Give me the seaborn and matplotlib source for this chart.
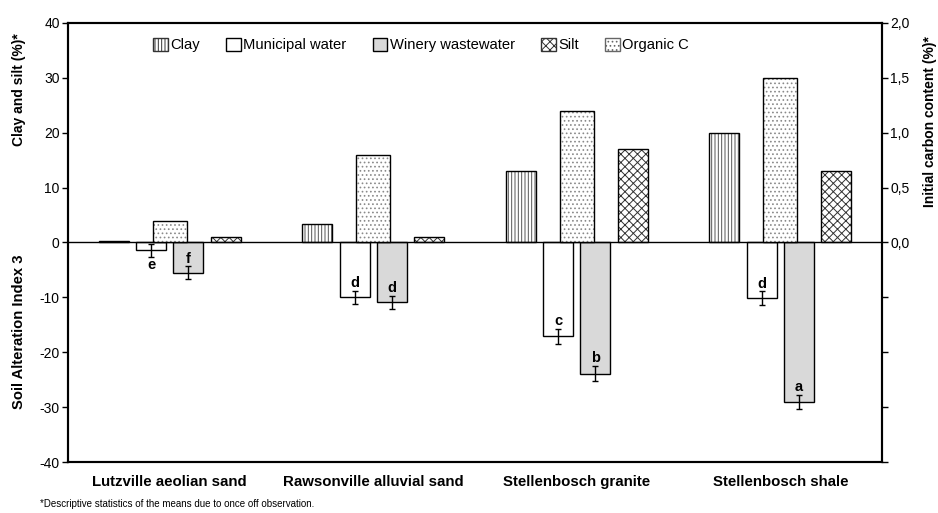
import matplotlib
matplotlib.use("Agg")
import numpy as np
import pandas as pd
import matplotlib.pyplot as plt
import seaborn as sns
from matplotlib.patches import Rectangle, Patch
from matplotlib.ticker import FuncFormatter

# Datos
suelos = ["Lutzville aeolian sand", "Rawsonville alluvial sand",
          "Stellenbosch granite", "Stellenbosch shale"]
series = ["Clay", "Municipal water", "Winery wastewater", "Silt"]
clay = [0.3, 3.3, 13.0, 20.0]
municipal = [-1.4, -10.0, -17.1, -10.1]
winery = [-5.5, -10.9, -23.9, -29.0]
silt = [1.0, 1.0, 17.0, 13.0]
organic_c = [0.2, 0.8, 1.2, 1.5]
municipal_err = [1.2, 1.2, 1.4, 1.2]
winery_err = [1.2, 1.2, 1.4, 1.3]
municipal_letras = ["e", "d", "c", "d"]
winery_letras = ["f", "d", "b", "a"]

sns.set_theme(style="white")
plt.rcParams["font.family"] = ["Liberation Sans", "DejaVu Sans"]
plt.rcParams["hatch.linewidth"] = 0.7
plt.rcParams["axes.unicode_minus"] = False
plt.rcParams["text.color"] = "black"
plt.rcParams["xtick.color"] = "black"
plt.rcParams["ytick.color"] = "black"

df = pd.DataFrame({
    "suelo": suelos * 4,
    "serie": [s for s in series for _ in suelos],
    "valor": clay + municipal + winery + silt,
})
colores = {"Clay": "white", "Municipal water": "white",
           "Winery wastewater": "#d9d9d9", "Silt": "white"}

fig = plt.figure(figsize=(9.38, 5.13), dpi=100)
ax = fig.add_axes([0.0725, 0.0994, 0.8678, 0.8558])

sns.barplot(data=df, x="suelo", y="valor", hue="serie", hue_order=series,
            palette=colores, saturation=1, width=0.736, gap=0.2,
            edgecolor="black", linewidth=1, errorbar=None, legend=False, ax=ax)
cont = list(ax.containers)


def sombrear(eje, parches, hatch, hcolor):
    # trama en gris con contorno negro aparte
    for p in parches:
        p.set_hatch(hatch)
        p.set_edgecolor(hcolor)
        p.set_linewidth(0)
        eje.add_patch(Rectangle(p.get_xy(), p.get_width(), p.get_height(),
                                fill=False, ec="black", lw=1,
                                zorder=p.get_zorder() + 0.1))


sombrear(ax, cont[0], "|||||", "#555555")
sombrear(ax, cont[3], "xxxx", "#333333")

# barras de error y letras
for c, vals, errs, letras in [(cont[1], municipal, municipal_err, municipal_letras),
                              (cont[2], winery, winery_err, winery_letras)]:
    xs = [p.get_x() + p.get_width() / 2 for p in c]
    ax.errorbar(xs, vals, yerr=errs, fmt="none", ecolor="black",
                elinewidth=1, capsize=2.5, capthick=1, zorder=5)
    for x, v, e, l in zip(xs, vals, errs, letras):
        if abs(v) > 3:
            ax.text(x, v + e + 0.1, l, ha="center", va="bottom",
                    fontsize=10.5, fontweight="bold", zorder=6)
        else:
            ax.text(x, v - e - 0.2, l, ha="center", va="top",
                    fontsize=10.5, fontweight="bold", zorder=6)

ax.axhline(0, color="black", lw=1, zorder=4)
ax.set_xlim(-0.5, 3.5)
ax.set_ylim(-40, 40)
ax.set_yticks(np.arange(-40, 41, 10))
ax.set_xlabel("")
ax.set_ylabel("")
ax.tick_params(axis="x", length=0, pad=9, labelsize=10.8)
ax.tick_params(axis="y", direction="out", length=4, width=1, left=True,
               labelsize=10, pad=2)
for t in ax.get_xticklabels():
    t.set_fontweight("bold")
for s in ax.spines.values():
    s.set_color("black")
    s.set_linewidth(1.5)

# carbono orgánico en eje secundario
ax2 = ax.twinx()
sns.barplot(x=suelos, y=organic_c, color="white", saturation=1, width=0.167,
            edgecolor="black", linewidth=1, errorbar=None, ax=ax2)
sombrear(ax2, ax2.containers[0], "....", "#8a8a8a")
ax2.set_xlim(-0.5, 3.5)
ax2.set_ylim(-2, 2)
ax2.set_yticks(np.arange(-2, 2.01, 0.5))
ax2.yaxis.set_major_formatter(FuncFormatter(
    lambda v, pos: f"{v:.1f}".replace(".", ",") if v >= -1e-9 else ""))
ax2.tick_params(axis="y", direction="out", length=4, width=1, right=True,
                labelsize=10, pad=2)
ax2.set_ylabel("")
for s in ax2.spines.values():
    s.set_color("black")
    s.set_linewidth(1.5)

fig.text(19 / 938, 1 - 90 / 513, "Clay and silt (%)*", rotation=90,
         ha="center", va="center", fontsize=10, fontweight="bold")
fig.text(19 / 938, 1 - 332 / 513, "Soil Alteration Index 3", rotation=90,
         ha="center", va="center", fontsize=10.6, fontweight="bold")
fig.text(930 / 938, 1 - 122 / 513, "Initial carbon content (%)*", rotation=90,
         ha="center", va="center", fontsize=10, fontweight="bold")
fig.text(40 / 938, 1 - 504 / 513,
         "*Descriptive statistics of the means due to once off observation.",
         ha="left", va="center", fontsize=7)

handles = [
    Patch(facecolor="white", edgecolor="#333333", hatch="|||||", lw=1),
    Patch(facecolor="white", edgecolor="black", lw=1),
    Patch(facecolor="#d9d9d9", edgecolor="black", lw=1),
    Patch(facecolor="white", edgecolor="#333333", hatch="xxxx", lw=1),
    Patch(facecolor="white", edgecolor="#666666", hatch="....", lw=1),
]
fig.legend(handles, series + ["Organic C"], loc="center left",
           bbox_to_anchor=(147 / 938, 1 - 45 / 513), ncol=5, frameon=False,
           fontsize=10.6, handlelength=1.0, handleheight=1.0,
           handletextpad=0.15, columnspacing=1.8, borderaxespad=0)

fig.savefig("out.png", dpi=100)
